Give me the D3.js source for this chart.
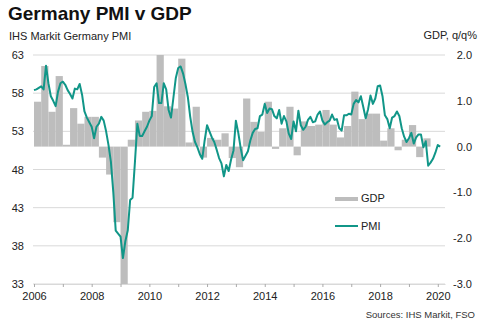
<!DOCTYPE html>
<html>
<head>
<meta charset="utf-8">
<title>Germany PMI v GDP</title>
<script src="https://d3js.org/d3.v7.min.js"></script>
<style>
  html, body {
    margin: 0;
    padding: 0;
    background: #fff;
  }
  svg {
    display: block;
    font-family: "Liberation Sans", Arial, sans-serif;
  }
  .tick text {
    fill: #222;
    font-size: 11px;
  }
</style>
</head>
<body>
<script>

// monthly composite PMI, Jan 2006 .. Feb 2020
const pmi = [
  58.4, 58.5, 58.7, 58.9, 58.5, 61.6, 59.3, 57.6, 57.0, 56.3, 58.2, 59.3, // 2006
  59.5, 59.1, 58.4, 57.9, 57.3, 58.6, 58.5, 59.2, 57.8, 55.6, 54.8, 54.2, // 2007
  53.6, 52.1, 53.6, 54.0, 54.9, 54.4, 53.0, 51.2, 49.0, 45.0, 40.0, 39.6, // 2008
  39.2, 36.4, 38.6, 40.0, 44.0, 44.3, 49.0, 54.0, 52.4, 52.4, 53.0, 53.6, // 2009
  54.4, 55.0, 58.8, 59.3, 56.7, 56.7, 59.3, 58.5, 55.8, 54.8, 57.4, 60.0, // 2010
  61.3, 61.5, 60.6, 59.2, 57.5, 54.9, 52.9, 51.6, 50.9, 50.0, 49.4, 51.8, // 2011
  53.8, 53.0, 52.2, 51.6, 50.6, 49.5, 48.8, 47.1, 48.6, 47.8, 49.3, 50.5, // 2012
  54.4, 52.8, 50.8, 49.2, 49.8, 50.4, 51.8, 52.8, 53.3, 53.4, 55.0, 55.2, // 2013
  56.6, 55.4, 56.0, 55.9, 55.0, 54.7, 55.8, 54.0, 55.0, 54.3, 52.7, 52.0, // 2014
  54.3, 53.0, 55.7, 53.8, 53.2, 53.6, 54.5, 54.9, 54.2, 54.3, 55.2, 55.6, // 2015
  54.4, 53.9, 54.2, 54.4, 55.2, 54.5, 54.6, 53.4, 53.1, 55.1, 55.1, 55.3, // 2016
  55.2, 56.6, 57.1, 56.8, 57.6, 56.2, 54.7, 55.9, 57.7, 56.6, 57.3, 58.9, // 2017
  59.0, 57.6, 55.1, 54.6, 53.4, 54.8, 55.0, 55.6, 55.0, 53.4, 52.3, 51.6, // 2018
  52.1, 52.8, 51.4, 52.2, 52.6, 52.6, 50.9, 51.7, 48.5, 48.9, 49.4, 50.2, // 2019
  51.2, 51.0                                                              // 2020
];

// quarterly GDP growth, q/q %, 2006 Q1 .. 2019 Q4
const gdp = [
  0.98, 1.76, 0.76, 1.54,   // 2006
  0.04, 0.84, 0.50, 0.65,   // 2007
  0.65, -0.24, -0.61, -1.65, // 2008
  -3.0, 0.15, 0.57, 0.76,   // 2009
  0.78, 2.0, 0.88, 0.83,    // 2010
  1.92, 0.09, 0.87, -0.24,  // 2011
  0.19, 0.15, 0.29, -0.25,  // 2012
  -0.45, 1.05, 0.54, 0.32,  // 2013
  0.98, -0.05, 0.40, 0.87,  // 2014
  -0.19, 0.55, 0.45, 0.48,  // 2015
  0.80, 0.48, 0.20, 0.45,   // 2016
  1.20, 0.60, 0.72, 0.72,   // 2017
  0.13, 0.40, -0.08, 0.15,  // 2018
  0.47, -0.23, 0.18, 0.0    // 2019
];

const startYear = 2006;
const yearTicks = d3.range(2006, 2021);
const pmiTicks = [33, 38, 43, 48, 53, 58, 63];
const gdpTicks = [-3, -2, -1, 0, 1, 2];

const width = 489, height = 335;
const plotLeft = 33, plotRight = 445, plotTop = 55, plotBottom = 284;

const barColor = "#bdbdbd";
const lineColor = "#119688";

const x = d3.scaleLinear().domain([2006, 2020.25]).range([34, plotRight]);
const yL = d3.scaleLinear().domain([33, 63]).range([plotBottom, plotTop]);
const yR = d3.scaleLinear().domain([-3, 2]).range([plotBottom, plotTop]);

const svg = d3.select("body").append("svg")
  .attr("width", width)
  .attr("height", height);

// horizontal gridlines off the PMI scale
svg.append("g")
  .selectAll("line")
  .data(pmiTicks)
  .join("line")
  .attr("x1", plotLeft)
  .attr("x2", plotRight)
  .attr("y1", d => yL(d))
  .attr("y2", d => yL(d))
  .attr("stroke", "#d9d9d9")
  .attr("stroke-width", 1);

// GDP bars, one per quarter, from the zero line of the right axis
svg.append("g")
  .selectAll("rect")
  .data(gdp)
  .join("rect")
  .attr("x", (d, i) => x(startYear + i / 4))
  .attr("width", (d, i) => x(startYear + (i + 1) / 4) - x(startYear + i / 4))
  .attr("y", d => yR(Math.max(0, d)))
  .attr("height", d => Math.abs(yR(d) - yR(0)))
  .attr("fill", barColor);

// PMI line
const line = d3.line()
  .x((d, i) => x(startYear + i / 12))
  .y(d => yL(d));

svg.append("path")
  .datum(pmi)
  .attr("d", line)
  .attr("fill", "none")
  .attr("stroke", lineColor)
  .attr("stroke-width", 2)
  .attr("stroke-linejoin", "round");

// left axis (PMI)
svg.append("g")
  .attr("transform", `translate(${plotLeft},0)`)
  .call(d3.axisLeft(yL).tickValues(pmiTicks).tickSize(0).tickPadding(9))
  .call(g => g.select(".domain").remove());

// right axis (GDP)
svg.append("g")
  .attr("transform", `translate(${plotRight},0)`)
  .call(d3.axisRight(yR).tickValues(gdpTicks).tickSize(0).tickFormat(d => d.toFixed(1)))
  .call(g => g.select(".domain").remove())
  .call(g => g.selectAll("text").attr("text-anchor", "end").attr("x", 27));

// bottom axis, a tick every year, labels on even years
svg.append("g")
  .attr("transform", `translate(0,${plotBottom})`)
  .call(d3.axisBottom(x).tickValues(yearTicks).tickSize(3).tickSizeOuter(0).tickPadding(5)
    .tickFormat(d => d % 2 === 0 ? d : ""))
  .call(g => g.select(".domain").attr("stroke", "#d9d9d9"))
  .call(g => g.selectAll(".tick line").attr("stroke", "#aaa"));

// titles
svg.append("text")
  .attr("x", 8).attr("y", 20)
  .attr("font-size", 19).attr("font-weight", "bold").attr("fill", "#111")
  .text("Germany PMI v GDP");

svg.append("text")
  .attr("x", 9).attr("y", 40)
  .attr("font-size", 11).attr("fill", "#222")
  .text("IHS Markit Germany PMI");

svg.append("text")
  .attr("x", 477).attr("y", 39)
  .attr("text-anchor", "end")
  .attr("font-size", 11).attr("fill", "#222")
  .text("GDP, q/q%");

// legend
const legend = svg.append("g").attr("transform", "translate(335,0)");
legend.append("rect")
  .attr("x", 0).attr("y", 197).attr("width", 23).attr("height", 4)
  .attr("fill", barColor);
legend.append("text")
  .attr("x", 26).attr("y", 202)
  .attr("font-size", 11).attr("fill", "#222")
  .text("GDP");
legend.append("line")
  .attr("x1", 0).attr("x2", 23).attr("y1", 226).attr("y2", 226)
  .attr("stroke", lineColor).attr("stroke-width", 2);
legend.append("text")
  .attr("x", 26).attr("y", 230)
  .attr("font-size", 11).attr("fill", "#222")
  .text("PMI");

// source note
svg.append("text")
  .attr("x", 475).attr("y", 318)
  .attr("text-anchor", "end")
  .attr("font-size", 9.5).attr("fill", "#333")
  .text("Sources: IHS Markit, FSO");

</script>
</body>
</html>
